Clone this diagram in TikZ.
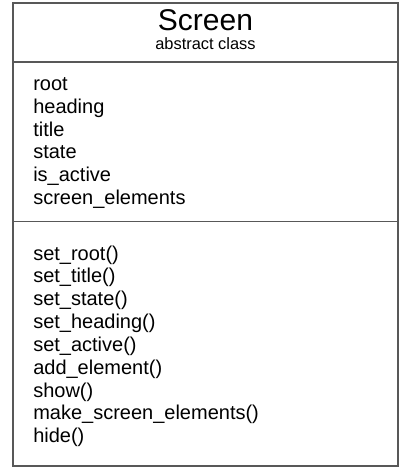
\documentclass[tikz,border=0pt]{standalone}
\usepackage{fontspec}
\setmainfont{Liberation Sans}
\usepackage{tikz}

\definecolor{umlline}{RGB}{88,88,88}
\tikzset{
    classline/.style={draw=umlline, line width=1.4pt},
    member/.style={anchor=base west, inner sep=0pt, font=\fontsize{15}{18}\selectfont},
}

\begin{document}
\begin{tikzpicture}[x=0.75pt,y=-0.75pt]
    \useasboundingbox (0,0) rectangle (406,476);

    % Class box with its two dividers
    \coordinate (nw) at (13,3);
    \coordinate (se) at (398,466);
    \coordinate (div1w) at (13,62);
    \coordinate (div1e) at (398,62);
    \coordinate (div2w) at (13,221.5);
    \coordinate (div2e) at (398,221.5);
    \draw[classline] (nw) rectangle (se);
    \draw[classline] (div1w) -- (div1e);
    \draw[classline] (div2w) -- (div2e);

    % Header
    \node[anchor=base, inner sep=0pt, font=\fontsize{22.5}{26}\selectfont] (name) at (205.5,30) {Screen};
    \node[anchor=base, inner sep=0pt, font=\fontsize{12.3}{14}\selectfont] (stereo) at (205.5,49) {abstract class};

    % Attributes
    \node[member] (root) at (33,90.5) {root};
    \node[member] (heading) at (33,113.3) {heading};
    \node[member] (title) at (33,136.1) {title};
    \node[member] (state) at (33,158.9) {state};
    \node[member] (isactive) at (33,181.7) {is\_active};
    \node[member] (elements) at (33,204.5) {screen\_elements};

    % Methods
    \node[member] (setroot) at (33,260) {set\_root()};
    \node[member] (settitle) at (33,282.85) {set\_title()};
    \node[member] (setstate) at (33,305.7) {set\_state()};
    \node[member] (setheading) at (33,328.55) {set\_heading()};
    \node[member] (setactive) at (33,351.4) {set\_active()};
    \node[member] (addelement) at (33,374.25) {add\_element()};
    \node[member] (show) at (33,397.1) {show()};
    \node[member] (makeelements) at (33,419.95) {make\_screen\_elements()};
    \node[member] (hide) at (33,442.8) {hide()};
\end{tikzpicture}
\end{document}
